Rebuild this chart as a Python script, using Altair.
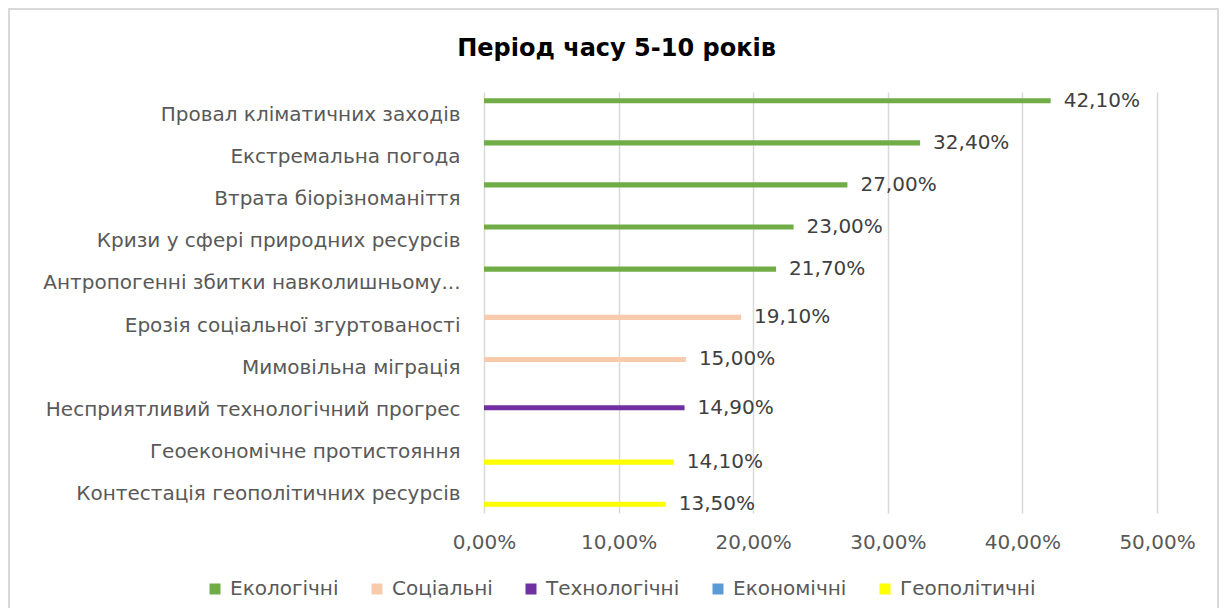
import altair as alt
import pandas as pd

categories = [
    "Провал кліматичних заходів",
    "Екстремальна погода",
    "Втрата біорізноманіття",
    "Кризи у сфері природних ресурсів",
    "Антропогенні збитки навколишньому...",
    "Ерозія соціальної згуртованості",
    "Мимовільна міграція",
    "Несприятливий технологічний прогрес",
    "Геоекономічне протистояння",
    "Контестація геополітичних ресурсів",
]
values = [0.421, 0.324, 0.270, 0.230, 0.217, 0.191, 0.150, 0.149, 0.141, 0.135]
groups = [
    "Екологічні", "Екологічні", "Екологічні", "Екологічні", "Екологічні",
    "Соціальні", "Соціальні",
    "Технологічні",
    "Геополітичні", "Геополітичні",
]
series = ["Екологічні", "Соціальні", "Технологічні", "Економічні", "Геополітичні"]
colors = ["#70AD47", "#F8CBAD", "#7030A0", "#5B9BD5", "#FFFF00"]
x_ticks = [0, 0.1, 0.2, 0.3, 0.4, 0.5]

FONT = "DejaVu Sans"

df = pd.DataFrame({"risk": categories, "value": values, "group": groups})

base = alt.Chart(df).encode(
    y=alt.Y(
        "risk:N",
        sort=categories,
        title=None,
        scale=alt.Scale(paddingInner=0, paddingOuter=0),
        axis=alt.Axis(
            domain=False, ticks=False, grid=False, labelPadding=24, labelOffset=2,
            labelFontSize=20, labelColor="#595959", labelFont=FONT, labelLimit=600,
        ),
    ),
    yOffset=alt.YOffset(
        "group:N",
        scale=alt.Scale(domain=series, paddingInner=0.17, paddingOuter=1),
    ),
    x=alt.X(
        "value:Q",
        title=None,
        scale=alt.Scale(domain=[0, 0.5], nice=False),
        axis=alt.Axis(
            values=x_ticks,
            labelExpr="replace(format(datum.value, '.2%'), '.', ',')",
            domain=False, ticks=False, grid=True, gridColor="#d9d9d9", gridWidth=1.5,
            labelFlush=False, labelPadding=19, labelFontSize=20,
            labelColor="#595959", labelFont=FONT,
        ),
    ),
)

bars = base.mark_bar().encode(
    color=alt.Color(
        "group:N",
        scale=alt.Scale(domain=series, range=colors),
        legend=alt.Legend(
            title=None, orient="none", legendX=-279, legendY=487,
            direction="horizontal", symbolType="square", symbolSize=121,
            symbolStrokeWidth=0, labelFontSize=20, labelColor="#595959",
            labelFont=FONT, columnPadding=28, labelOffset=5,
        ),
    )
)

labels = base.mark_text(
    align="left", baseline="middle", dx=13, fontSize=20, color="#404040", font=FONT
).transform_calculate(
    label="replace(format(datum.value, '.2%'), '.', ',')"
).encode(text="label:N")

border = alt.Chart(pd.DataFrame({"a": [0]})).mark_rect(
    fillOpacity=0, stroke="#d9d9d9", strokeWidth=2
).encode(
    x=alt.value(-475), x2=alt.value(734), y=alt.value(-83), y2=alt.value(600)
)

chart = alt.layer(border, bars, labels).properties(
    width=673,
    height=421,
    autosize=alt.AutoSizeParams(type="none"),
    padding={"left": 476, "top": 84, "right": 62, "bottom": 95},
    title=alt.Title(
        "Період часу 5-10 років", fontSize=24, font=FONT, fontWeight="bold",
        color="#000000", anchor="middle", dx=-204, offset=0, dy=72,
        baseline="alphabetic",
    ),
    background="white",
).configure_view(stroke=None)

chart.save("out.html", embed_options={"renderer": "svg", "actions": False})
